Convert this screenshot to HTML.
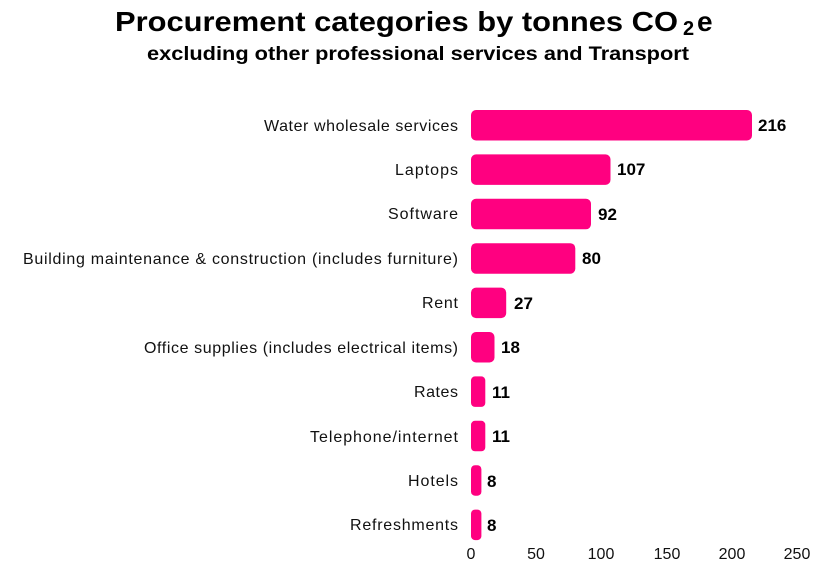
<!DOCTYPE html>
<html><head><meta charset="utf-8"><style>body{margin:0;background:#fff}svg{display:block}</style></head><body>
<svg width="820" height="565" xmlns="http://www.w3.org/2000/svg" font-family="Liberation Sans, sans-serif">
<text x="115" y="31" font-size="28" font-weight="bold" fill="#000" textLength="563" lengthAdjust="spacingAndGlyphs">Procurement categories by tonnes CO</text><text x="683" y="35" font-size="20" font-weight="bold">2</text><text x="697" y="31" font-size="28" font-weight="bold">e</text>
<text x="147" y="60" font-size="19" font-weight="bold" fill="#000" textLength="542" lengthAdjust="spacingAndGlyphs">excluding other professional services and Transport</text>
<g fill="#ff0080">
<rect x="471" y="110" width="281" height="30.5" rx="5"/>
<rect x="471" y="154.4" width="139.5" height="30.5" rx="5"/>
<rect x="471" y="198.8" width="120" height="30.5" rx="5"/>
<rect x="471" y="243.2" width="104.3" height="30.5" rx="5"/>
<rect x="471" y="287.6" width="35.2" height="30.5" rx="5"/>
<rect x="471" y="332" width="23.5" height="30.5" rx="5"/>
<rect x="471" y="376.4" width="14.3" height="30.5" rx="4"/>
<rect x="471" y="420.8" width="14.3" height="30.5" rx="4"/>
<rect x="471" y="465.2" width="10.4" height="30.5" rx="4"/>
<rect x="471" y="509.6" width="10.4" height="30.5" rx="4"/>
</g>
<g font-size="16" fill="#111" lengthAdjust="spacingAndGlyphs">
<text x="264" y="131" textLength="194">Water wholesale services</text>
<text x="395" y="175" textLength="63">Laptops</text>
<text x="388" y="219" textLength="70">Software</text>
<text x="23" y="264" textLength="435">Building maintenance &amp; construction (includes furniture)</text>
<text x="422" y="308" textLength="36">Rent</text>
<text x="144" y="353" textLength="314">Office supplies (includes electrical items)</text>
<text x="414" y="397" textLength="44">Rates</text>
<text x="310" y="442" textLength="148">Telephone/internet</text>
<text x="408" y="486" textLength="50">Hotels</text>
<text x="350" y="530" textLength="108">Refreshments</text>
</g>
<g font-size="17" font-weight="bold" fill="#000">
<text x="758" y="131">216</text>
<text x="617" y="175">107</text>
<text x="598" y="220">92</text>
<text x="582" y="264">80</text>
<text x="514" y="309">27</text>
<text x="501" y="353">18</text>
<text x="492" y="398">11</text>
<text x="492" y="442">11</text>
<text x="487" y="487">8</text>
<text x="487" y="531">8</text>
</g>
<g font-size="16" fill="#111" text-anchor="middle">
<text x="471" y="559">0</text>
<text x="536" y="559">50</text>
<text x="601" y="559">100</text>
<text x="667" y="559">150</text>
<text x="732" y="559">200</text>
<text x="797" y="559">250</text>
</g>
</svg>
</body></html>
